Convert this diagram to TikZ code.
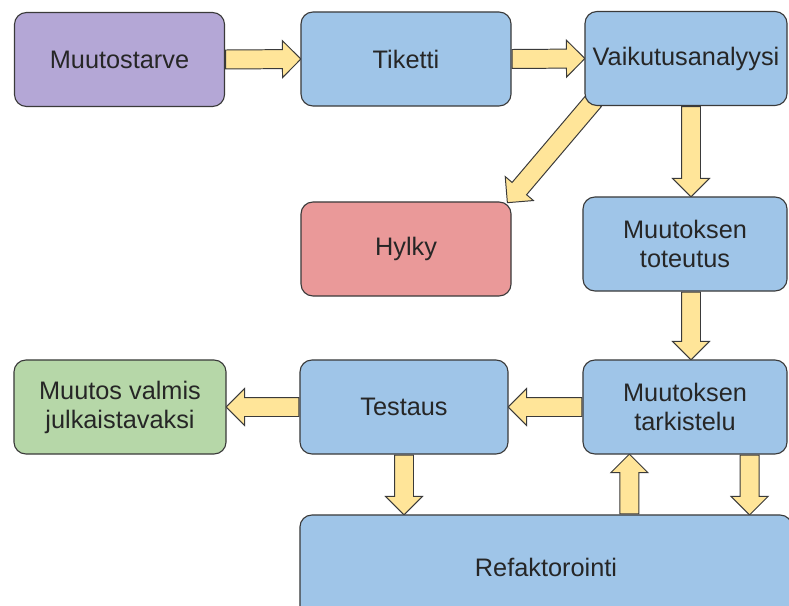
\documentclass[tikz,border=0pt]{standalone}
\usepackage{fontspec}
\setmainfont{Liberation Sans}
\usetikzlibrary{shapes.arrows, calc}

\definecolor{lilac}{HTML}{B4A7D6}
\definecolor{skyblue}{HTML}{9FC5E8}
\definecolor{rose}{HTML}{EA9999}
\definecolor{sage}{HTML}{B6D7A8}
\definecolor{butter}{HTML}{FFE599}
\definecolor{edgegray}{HTML}{3A3A3A}

\pgfdeclarelayer{back}
\pgfsetlayers{back,main}

\tikzset{
  box/.style={draw=edgegray, line width=0.8pt, rounded corners=0.3cm, minimum width=5.25cm, minimum height=2.35cm, align=center, font=\fontsize{18}{20.6}\selectfont, text=black!85},
  fatarrow/.style={single arrow, draw=edgegray, fill=butter, line width=0.7pt, minimum width=0.9cm, single arrow head extend=0.225cm, single arrow head indent=0pt, inner xsep=0pt, inner ysep=0.225cm}
}

\newcommand{\bigarrow}[2]{%
  \path let \p1=(#1), \p2=(#2), \n1={atan2(\y2-\y1,\x2-\x1)}, \n2={veclen(\x2-\x1,\y2-\y1)} in
    node[fatarrow, minimum height=\n2, rotate=\n1, anchor=tail] at (\p1) {};}

\begin{document}
\begin{tikzpicture}[x=0.025cm, y=-0.025cm]
		      \useasboundingbox (0,0) rectangle (789,605);
		      \node[box, fill=lilac] (need) at (119.5,59.5) {Muutostarve};
		      \node[box, fill=skyblue] (ticket) at (406,59) {Tiketti};
		      \node[box, fill=skyblue, minimum width=5.05cm] (impact) at (686,58.5) {Vaikutusanalyysi};
		      \node[box, fill=rose] (reject) at (406,249) {Hylky};
		      \node[box, fill=skyblue, minimum width=5.1cm] (impl) at (685,244) {Muutoksen\\toteutus};
		      \node[box, fill=skyblue, minimum width=5.1cm] (review) at (685,407) {Muutoksen\\tarkistelu};
		      \node[box, fill=skyblue, minimum width=5.2cm] (test) at (404,407) {Testaus};
		      \node[box, fill=sage, minimum width=5.3cm] (done) at (120,407) {Muutos valmis\\julkaistavaksi};
		      \node[box, fill=skyblue, minimum width=12.3cm, minimum height=2.6cm] (refactor) at (546,567) {Refaktorointi};

		      \coordinate (cutTail) at ($(impact.south west)+(10,-6)$);
		      \coordinate (cutTip) at ($(reject.north east)+(-4,1)$);
		      \coordinate (implTop) at ($(impl.north)+(6,0)$);
		      \coordinate (implFoot) at ($(impl.south)+(6,0)$);
		      \coordinate (upFoot) at ($(refactor.north west)+(330,0)$);
		      \coordinate (downHead) at ($(review.south east)+(-38,0)$);

		      \begin{pgfonlayer}{back}
		      \bigarrow{need.east}{ticket.west}
		      \bigarrow{ticket.east}{impact.west}
		      \bigarrow{cutTail}{cutTip}
		      \bigarrow{implTop |- impact.south}{implTop}
		      \bigarrow{implFoot}{implFoot |- review.north}
		      \bigarrow{review.west}{test.east}
		      \bigarrow{test.west}{done.east}
		      \bigarrow{test.south}{test.south |- refactor.north}
		      \bigarrow{upFoot}{upFoot |- review.south}
		      \bigarrow{downHead}{downHead |- refactor.north}
		      \end{pgfonlayer}

	      \end{tikzpicture}
\end{document}
